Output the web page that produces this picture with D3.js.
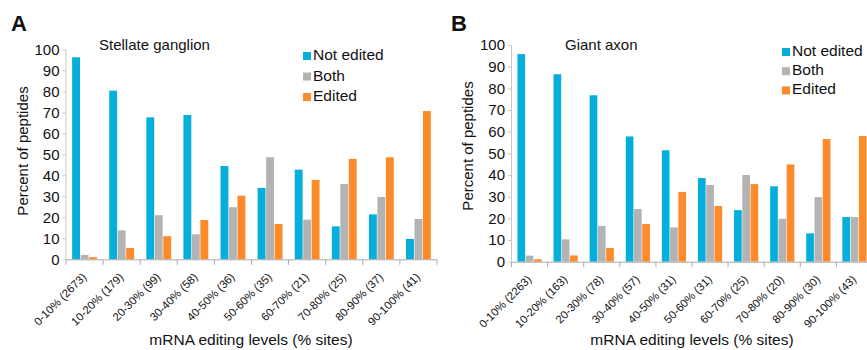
<!DOCTYPE html>
<html>
<head>
<meta charset="utf-8">
<script src="https://cdn.jsdelivr.net/npm/d3@7"></script>
<style>
  html, body { margin: 0; padding: 0; background: #fff; }
  svg { display: block; }
  text { font-family: Arial, "Liberation Sans", sans-serif; fill: #111; }
</style>
</head>
<body>
<svg id="chart" width="867" height="350"></svg>
<script>
// ---- Data ----
const seriesNames = ["Not edited", "Both", "Edited"];
const seriesColors = ["#06AEDB", "#B3B3B3", "#FD8B2C"];
const yTicks = [0, 10, 20, 30, 40, 50, 60, 70, 80, 90, 100];

const catsA = ["0-10% (2673)", "10-20% (179)", "20-30% (99)", "30-40% (58)", "40-50% (36)",
               "50-60% (35)", "60-70% (21)", "70-80% (25)", "80-90% (37)", "90-100% (41)"];
const notEditedA = [96.2, 80.3, 67.6, 68.7, 44.4, 34.0, 42.7, 15.7, 21.4, 9.7];
const bothA      = [2.1, 13.8, 21.0, 11.9, 24.8, 48.6, 18.9, 35.9, 29.7, 19.2];
const editedA    = [1.0, 5.4, 11.0, 18.7, 30.3, 16.8, 37.8, 47.8, 48.6, 70.6];

const catsB = ["0-10% (2263)", "10-20% (163)", "20-30% (78)", "30-40% (57)", "40-50% (31)",
               "50-60% (31)", "60-70% (25)", "70-80% (20)", "80-90% (30)", "90-100% (43)"];
const notEditedB = [95.8, 86.5, 76.8, 57.8, 51.4, 38.6, 23.8, 34.8, 13.1, 20.6];
const bothB      = [2.8, 10.3, 16.5, 24.3, 15.8, 35.4, 40.0, 19.8, 29.8, 20.6];
const editedB    = [1.1, 2.9, 6.3, 17.4, 32.2, 25.7, 35.8, 44.9, 56.6, 58.0];

const svg = d3.select("#chart");

function drawPanel(opt) {
  const g = svg.append("g");
  const x0 = d3.scaleBand().domain(opt.cats).range([opt.x0, opt.x0 + opt.band * opt.cats.length]).padding(0);
  const bw = x0.bandwidth();
  const x1 = d3.scaleBand().domain(seriesNames).range([bw * 0.165, bw * 0.835]).paddingInner(0.07);
  const y = d3.scaleLinear().domain([0, 100]).range([opt.yBottom, opt.yTop]);
  const color = d3.scaleOrdinal().domain(seriesNames).range(seriesColors);

  const rows = opt.cats.map((c, i) => ({ cat: c, vals: opt.series.map((s, k) => ({ name: seriesNames[k], v: s[i] })) }));

  // bars
  g.selectAll("g.cat").data(rows).join("g")
    .attr("class", "cat")
    .attr("transform", d => `translate(${x0(d.cat)},0)`)
    .selectAll("rect").data(d => d.vals).join("rect")
      .attr("x", d => x1(d.name))
      .attr("width", x1.bandwidth())
      .attr("y", d => y(d.v))
      .attr("height", d => y(0) - y(d.v))
      .attr("fill", d => color(d.name));

  // y axis
  const yAxis = g.append("g")
    .attr("transform", `translate(${opt.x0 - 0.5},0)`)
    .call(d3.axisLeft(y).tickValues(yTicks).tickSize(3).tickPadding(3).tickSizeOuter(0));
  yAxis.select(".domain").attr("stroke", "#c8c8c8");
  yAxis.selectAll(".tick line").attr("stroke", "#c8c8c8");
  yAxis.selectAll(".tick text").attr("font-size", 15).attr("fill", "#111")
    .style("font-family", "Arial, 'Liberation Sans', sans-serif");

  // x axis
  const xAxisG = g.append("g").attr("transform", `translate(0,${opt.yBottom + 0.5})`);
  xAxisG.append("line")
    .attr("x1", x0.range()[0]).attr("x2", x0.range()[1])
    .attr("stroke", "#aaa");
  const edges = opt.cats.map(c => x0(c)).concat([x0.range()[1]]);
  xAxisG.selectAll("line.tk").data(edges).join("line")
    .attr("class", "tk")
    .attr("x1", d => d).attr("x2", d => d)
    .attr("y1", 0).attr("y2", 5)
    .attr("stroke", "#aaa");
  xAxisG.selectAll("text.lbl").data(opt.cats).join("text")
    .attr("class", "lbl")
    .attr("text-anchor", "end")
    .attr("font-size", 11.3)
    .attr("transform", d => `translate(${x0(d) + bw / 2 + 2.5},${18}) rotate(-45)`)
    .text(d => d);

  // axis titles
  g.append("text")
    .attr("text-anchor", "middle")
    .attr("font-size", 15)
    .attr("transform", `translate(${opt.yTitleX},${opt.yTitleY}) rotate(-90)`)
    .text("Percent of peptides");
  g.append("text")
    .attr("text-anchor", "middle")
    .attr("font-size", 15.5)
    .attr("x", opt.xTitleX).attr("y", 345)
    .text("mRNA editing levels (% sites)");

  // panel letter and title
  g.append("text")
    .attr("x", opt.letterX).attr("y", 31)
    .attr("font-size", 22).attr("font-weight", "bold")
    .text(opt.letter);
  g.append("text")
    .attr("x", opt.titleX).attr("y", 50)
    .attr("font-size", 15)
    .text(opt.title);

  // legend
  const leg = g.append("g").attr("transform", `translate(${opt.legX},${opt.legY})`);
  const li = leg.selectAll("g").data(seriesNames).join("g")
    .attr("transform", (d, i) => `translate(0,${i * opt.legStep})`);
  li.append("rect").attr("x", 0).attr("y", -8).attr("width", 8).attr("height", 8)
    .attr("fill", d => color(d));
  li.append("text").attr("x", 10).attr("y", 0).attr("font-size", 15.5).text(d => d);
}

drawPanel({
  cats: catsA, series: [notEditedA, bothA, editedA],
  x0: 66, band: 37.1, yTop: 49.3, yBottom: 259.3,
  yTitleX: 28, yTitleY: 151, xTitleX: 251,
  letter: "A", letterX: 11, title: "Stellate ganglion", titleX: 99,
  legX: 303, legY: 60, legStep: 20.5
});

drawPanel({
  cats: catsB, series: [notEditedB, bothB, editedB],
  x0: 511.5, band: 36.1, yTop: 45, yBottom: 261.7,
  yTitleX: 473, yTitleY: 146, xTitleX: 692,
  letter: "B", letterX: 451, title: "Giant axon", titleX: 565,
  legX: 782, legY: 56, legStep: 19.2
});
</script>
</body>
</html>
